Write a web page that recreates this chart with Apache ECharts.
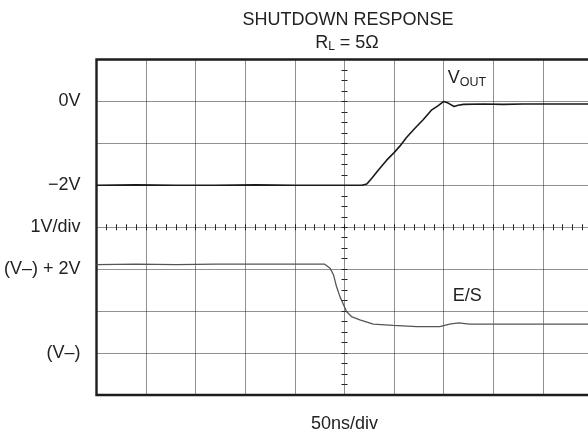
<!DOCTYPE html>
<html>
<head>
<meta charset="utf-8">
<script src="https://cdn.jsdelivr.net/npm/echarts@6/dist/echarts.min.js"></script>
<style>
html,body{margin:0;padding:0;background:#fff;}
#chart{width:588px;height:437px;}
</style>
</head>
<body>
<div id="chart"></div>
<script>
// time in ns (50 ns/div), VOUT in volts
var voutTime = [0, 40, 80, 120, 160, 200, 240, 262, 267.5, 272.5, 277.5, 284, 292.5, 300, 306, 312.5, 321, 329.5, 338, 344.5, 350, 354.5, 360.5, 364.5, 370, 390, 410, 430, 450, 470, 500];
var voutValues = [-2.0, -1.99, -2.0, -2.0, -1.99, -2.0, -2.0, -2.0, -2.0, -1.97, -1.83, -1.64, -1.40, -1.22, -1.06, -0.86, -0.64, -0.43, -0.20, -0.10, 0.0, -0.04, -0.12, -0.09, -0.07, -0.06, -0.07, -0.06, -0.06, -0.06, -0.06];
// E/S in volts relative to (V-)
var esTime = [0, 40, 80, 120, 160, 200, 230, 235.5, 239, 242, 245.5, 249, 252, 257, 265.5, 279, 299, 323, 346, 356, 365, 376, 420, 460, 500];
var esValues = [2.11, 2.12, 2.11, 2.12, 2.12, 2.12, 2.12, 2.02, 1.86, 1.58, 1.34, 1.15, 0.99, 0.87, 0.79, 0.69, 0.66, 0.63, 0.63, 0.69, 0.72, 0.69, 0.69, 0.69, 0.69];
// left axis tick labels (VOUT scale values)
var yTickValues = [0, -2, -3, -4, -6];
var yTickLabels = ['0V', '\u22122V', '1V/div', '(V\u2013) + 2V', '(V\u2013)'];

var FONT = 'Liberation Sans';
var TXT = '#222';
var GRIDC = '#222';

function pairs(xs, ys) { return xs.map(function (x, i) { return [x, ys[i]]; }); }

var chart = echarts.init(document.getElementById('chart'), null, {renderer: 'canvas'});

var dotted = {color: GRIDC, width: 1, type: 'dotted'};
var tickStyle = {color: '#222', width: 1};

var option = {
  animation: false,
  backgroundColor: '#fff',
  textStyle: {fontFamily: FONT},
  title: [
    {text: 'SHUTDOWN RESPONSE', left: 343, top: 6, textAlign: 'center',
     textStyle: {fontFamily: FONT, fontSize: 18, fontWeight: 'normal', color: TXT}},
    {text: '{r|R}{s|L}{r| = 5\u03A9}', left: 342, top: 28, textAlign: 'center',
     textStyle: {fontFamily: FONT, fontSize: 18, fontWeight: 'normal', color: TXT,
       rich: {r: {fontFamily: FONT, fontSize: 18, color: TXT},
              s: {fontFamily: FONT, fontSize: 12, color: TXT, padding: [8, 0, 0, 0]}}}}
  ],
  grid: {left: 96.5, top: 59.5, width: 496, height: 335.5, show: true,
         outerBoundsMode: 'none', containLabel: false,
         borderWidth: 2.4, borderColor: '#1a1a1a', backgroundColor: 'transparent'},
  xAxis: [
    {type: 'value', min: 0, max: 500, interval: 50, position: 'bottom',
     name: '50ns/div', nameLocation: 'middle', nameGap: 20,
     nameTextStyle: {fontFamily: FONT, fontSize: 18, color: TXT, verticalAlign: 'top'},
     axisLine: {show: false}, axisTick: {show: false}, axisLabel: {show: false},
     splitLine: {show: true, lineStyle: dotted}},
    {type: 'value', min: -250, max: 250, show: false},
    {type: 'value', min: 0, max: 500, interval: 50, position: 'bottom',
     axisLine: {show: true, onZero: true, onZeroAxisIndex: 2, lineStyle: {opacity: 0}},
     axisTick: {show: true, length: 3, lineStyle: tickStyle},
     minorTick: {show: true, splitNumber: 5, length: 3, lineStyle: tickStyle},
     axisLabel: {show: false}, splitLine: {show: false}},
    {type: 'value', min: 0, max: 500, interval: 50, position: 'bottom',
     axisLine: {show: true, onZero: true, onZeroAxisIndex: 2, lineStyle: {opacity: 0}},
     axisTick: {show: true, inside: true, length: 3, lineStyle: tickStyle},
     minorTick: {show: true, splitNumber: 5, length: 3, lineStyle: tickStyle},
     axisLabel: {show: false}, splitLine: {show: false}}
  ],
  yAxis: [
    {type: 'value', min: -7, max: 1, interval: 1, position: 'left',
     axisLine: {show: false}, axisTick: {show: false},
     axisLabel: {show: true, margin: 16, fontFamily: FONT, fontSize: 18, color: TXT,
       formatter: function (v) { var i = yTickValues.indexOf(v); return i >= 0 ? yTickLabels[i] : ''; }},
     splitLine: {show: true, lineStyle: dotted}},
    {type: 'value', min: -1, max: 7, interval: 1, position: 'right', show: false},
    {type: 'value', min: -4, max: 4, show: false},
    {type: 'value', min: -7, max: 1, interval: 1, position: 'left',
     axisLine: {show: true, onZero: true, onZeroAxisIndex: 1, lineStyle: {opacity: 0}},
     axisTick: {show: true, length: 3, lineStyle: tickStyle},
     minorTick: {show: true, splitNumber: 4, length: 3, lineStyle: tickStyle},
     axisLabel: {show: false}, splitLine: {show: false}},
    {type: 'value', min: -7, max: 1, interval: 1, position: 'left',
     axisLine: {show: true, onZero: true, onZeroAxisIndex: 1, lineStyle: {opacity: 0}},
     axisTick: {show: true, inside: true, length: 3, lineStyle: tickStyle},
     minorTick: {show: true, splitNumber: 4, length: 3, lineStyle: tickStyle},
     axisLabel: {show: false}, splitLine: {show: false}}
  ],
  series: [
    {name: 'VOUT', type: 'line', xAxisIndex: 0, yAxisIndex: 0, data: pairs(voutTime, voutValues),
     showSymbol: false, symbol: 'none', lineStyle: {color: '#1a1a1a', width: 1.6}, z: 5,
     markPoint: {symbol: 'circle', symbolSize: 0, silent: true,
       data: [{coord: [354, 0.55], label: {show: true, position: 'right', distance: 0,
         formatter: '{v|V}{s|OUT}',
         rich: {v: {fontFamily: FONT, fontSize: 18, color: TXT},
                s: {fontFamily: FONT, fontSize: 12.5, color: TXT, padding: [8, 0, 0, 0]}}}}]}},
    {name: 'E/S', type: 'line', xAxisIndex: 0, yAxisIndex: 1, data: pairs(esTime, esValues),
     showSymbol: false, symbol: 'none', lineStyle: {color: '#555', width: 1.3}, z: 5,
     markPoint: {symbol: 'circle', symbolSize: 0, silent: true,
       data: [{coord: [359, 1.36], label: {show: true, position: 'right', distance: 0,
         formatter: 'E/S', fontFamily: FONT, fontSize: 18, color: TXT}}]}}
  ]
};
chart.setOption(option);
</script>
</body>
</html>
